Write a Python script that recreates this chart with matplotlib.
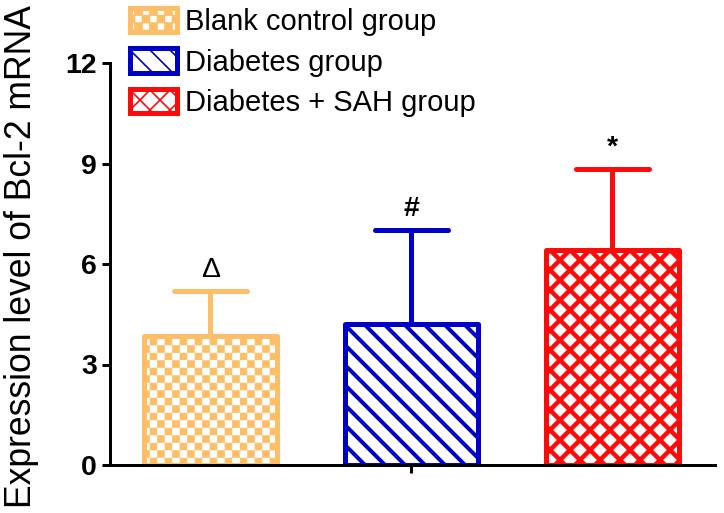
import warnings
import numpy as np
import matplotlib
matplotlib.use('Agg')
import matplotlib.pyplot as plt
import matplotlib.hatch as mhatch
from matplotlib.path import Path

warnings.filterwarnings('ignore')

# Daten
groups = ['Blank control group', 'Diabetes group', 'Diabetes + SAH group']
means = np.array([3.85, 4.2, 6.42])
sds = np.array([1.35, 2.82, 2.42])
marks = ['Δ', '#', '*']
colors = ['#FCBE66', '#0000C8', '#FF0A0A']
hatches = ['c', '\\\\', 'xx']
hatch_lw = [0.4, 2.4, 2.7]
yticks = [0, 3, 6, 9, 12]


class CheckerHatch(mhatch.HatchPatternBase):
    """Schachbrettmuster als eigenes Hatch-Zeichen 'c'."""
    def __init__(self, hatch, density):
        self.n = 16 if 'c' in hatch else 0
        self.num_vertices = (self.n * self.n // 2) * 5

    def set_vertices_and_codes(self, vertices, codes):
        c = 1.0 / self.n
        s = c * 0.92
        k = 0
        for i in range(self.n):
            for j in range(self.n):
                if (i + j) % 2:
                    continue
                x0, y0 = i * c, j * c
                vertices[k:k + 5] = [[x0, y0], [x0 + s, y0], [x0 + s, y0 + s],
                                     [x0, y0 + s], [x0, y0]]
                codes[k:k + 5] = [Path.MOVETO, Path.LINETO, Path.LINETO,
                                  Path.LINETO, Path.CLOSEPOLY]
                k += 5


mhatch._hatch_types.append(CheckerHatch)

plt.rcParams['font.family'] = ['Liberation Sans', 'DejaVu Sans']

fig = plt.figure(figsize=(724 / 120, 513 / 120), dpi=120)
ax = fig.add_axes([110 / 724, 1 - 465 / 513, 605 / 724, 402 / 513])

x = np.arange(len(groups))
tops = means + sds

# Fehlerbalken (nur nach oben)
ax.vlines(x, means, tops, colors=colors, linewidth=3, zorder=1)
ax.hlines(tops, x - 0.18, x + 0.18, colors=colors, linewidth=3,
          capstyle='round', zorder=1)

bars = ax.bar(x, means, width=0.66, color='white', edgecolor=colors,
              linewidth=3, zorder=2)
for b, h, lw, lab in zip(bars, hatches, hatch_lw, groups):
    b.set_hatch(h)
    b.set_joinstyle('round')
    b.set_label(lab)
    try:
        b.set_hatch_linewidth(lw)
    except AttributeError:
        pass

for xi, t, m in zip(x, tops, marks):
    ax.text(xi, t + 0.42, m, ha='center', va='baseline', fontsize=17,
            fontweight='normal' if m == 'Δ' else 'bold')

ax.set_xlim(-0.5, 2.51)
ax.set_ylim(0, 12)
ax.set_yticks(yticks)
ax.set_yticklabels([str(v) for v in yticks], fontsize=17, fontweight='bold')
ax.set_xticks([x[1]])
ax.set_xticklabels([''])
ax.tick_params(axis='both', direction='out', length=5, width=1.8, pad=3)

for s in ['top', 'right']:
    ax.spines[s].set_visible(False)
for s in ['left', 'bottom']:
    ax.spines[s].set_linewidth(1.8)

fig.text(22 / 724, 0.5, 'Expression level of Bcl-2 mRNA',
         rotation=90, ha='center', va='center', fontsize=21.3)

fig.legend(handles=list(bars), labels=groups, loc='upper left',
           bbox_to_anchor=(130 / 724, 1 - 8 / 513), frameon=False,
           fontsize=17.5, handlelength=1.6, handleheight=0.9,
           handletextpad=0.3, labelspacing=0.42, borderpad=0,
           borderaxespad=0)

fig.savefig('out.png', dpi=120)
